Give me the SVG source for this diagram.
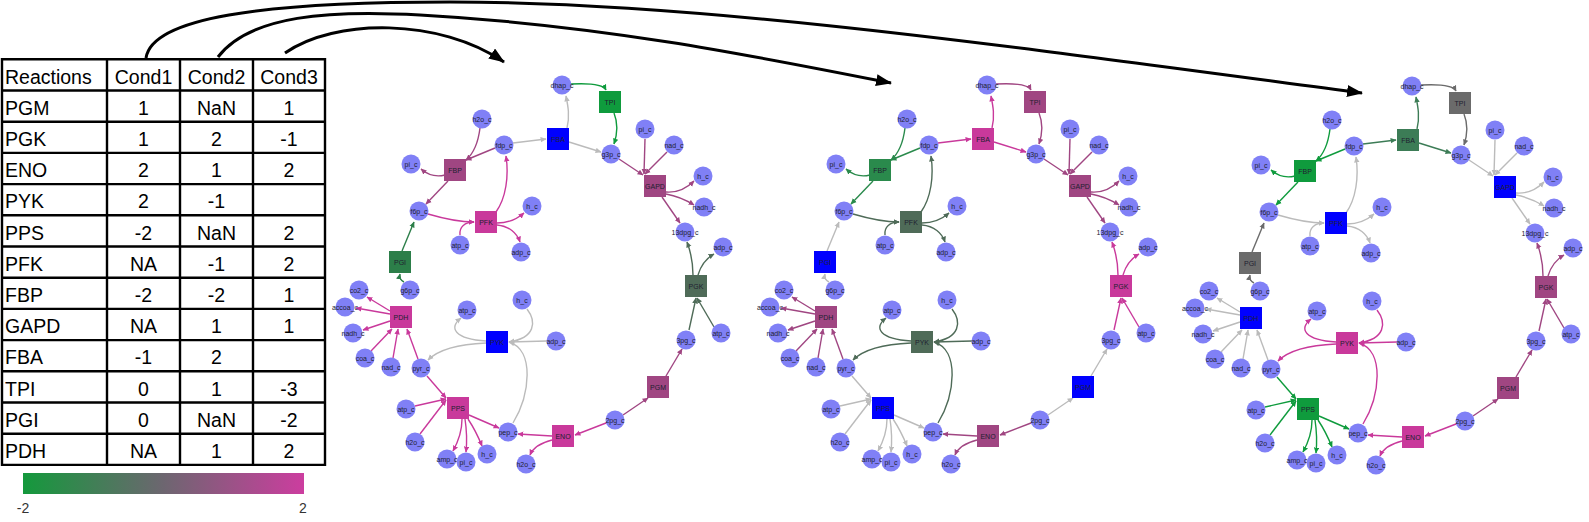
<svg xmlns="http://www.w3.org/2000/svg" width="1589" height="522" viewBox="0 0 1589 522">
<style>
text{font-family:"Liberation Sans",Arial,sans-serif}
.tb{font-size:19.5px;fill:#000}
.tc{text-anchor:middle}
.n text{font-size:7px;text-anchor:middle;fill:#202030}
.m circle{fill:#8080f6}
.e path{fill:none;stroke-width:1.4}
.big{fill:none;stroke:#000;stroke-width:3;marker-end:url(#bigh)}
.c-m2{stroke:#c9399b;marker-end:url(#h-m2)}
.c-m1{stroke:#a04682;marker-end:url(#h-m1)}
.c-g1{stroke:#4f6b58;marker-end:url(#h-g1)}
.c-g1b{stroke:#3c7c56;marker-end:url(#h-g1b)}
.c-g2{stroke:#2c7e49;marker-end:url(#h-g2)}
.c-g2b{stroke:#2a8a4c;marker-end:url(#h-g2b)}
.c-g3{stroke:#0f9b3d;marker-end:url(#h-g3)}
.c-z{stroke:#6b6b6b;marker-end:url(#h-z)}
.c-na{stroke:#bbbbbb;marker-end:url(#h-na)}
.f-m2{fill:#c9399b}.f-m1{fill:#a04682}.f-g1{fill:#4f6b58}.f-g1b{fill:#3c7c56}
.f-g2{fill:#2c7e49}.f-g2b{fill:#2a8a4c}.f-g3{fill:#0f9b3d}.f-z{fill:#6b6b6b}.f-na{fill:#0000ff}
</style>
<defs>
<linearGradient id="cbar" x1="0" y1="0" x2="1" y2="0">
<stop offset="0" stop-color="#14993c"/><stop offset="0.5" stop-color="#6d6670"/><stop offset="1" stop-color="#cc3d9f"/>
</linearGradient>
<marker id="bigh" viewBox="0 0 16 12" refX="15" refY="6" markerWidth="16" markerHeight="12" markerUnits="userSpaceOnUse" orient="auto"><path d="M0,0 L16,6 L0,12 z" fill="#000"/></marker>
<marker id="h-m2" viewBox="0 0 10 10" refX="9" refY="5" markerWidth="6" markerHeight="6" markerUnits="userSpaceOnUse" orient="auto"><path d="M0,0.5 L10,5 L0,9.5 z" fill="#c9399b"/></marker>
<marker id="h-m1" viewBox="0 0 10 10" refX="9" refY="5" markerWidth="6" markerHeight="6" markerUnits="userSpaceOnUse" orient="auto"><path d="M0,0.5 L10,5 L0,9.5 z" fill="#a04682"/></marker>
<marker id="h-g1" viewBox="0 0 10 10" refX="9" refY="5" markerWidth="6" markerHeight="6" markerUnits="userSpaceOnUse" orient="auto"><path d="M0,0.5 L10,5 L0,9.5 z" fill="#4f6b58"/></marker>
<marker id="h-g1b" viewBox="0 0 10 10" refX="9" refY="5" markerWidth="6" markerHeight="6" markerUnits="userSpaceOnUse" orient="auto"><path d="M0,0.5 L10,5 L0,9.5 z" fill="#3c7c56"/></marker>
<marker id="h-g2" viewBox="0 0 10 10" refX="9" refY="5" markerWidth="6" markerHeight="6" markerUnits="userSpaceOnUse" orient="auto"><path d="M0,0.5 L10,5 L0,9.5 z" fill="#2c7e49"/></marker>
<marker id="h-g2b" viewBox="0 0 10 10" refX="9" refY="5" markerWidth="6" markerHeight="6" markerUnits="userSpaceOnUse" orient="auto"><path d="M0,0.5 L10,5 L0,9.5 z" fill="#2a8a4c"/></marker>
<marker id="h-g3" viewBox="0 0 10 10" refX="9" refY="5" markerWidth="6" markerHeight="6" markerUnits="userSpaceOnUse" orient="auto"><path d="M0,0.5 L10,5 L0,9.5 z" fill="#0f9b3d"/></marker>
<marker id="h-z" viewBox="0 0 10 10" refX="9" refY="5" markerWidth="6" markerHeight="6" markerUnits="userSpaceOnUse" orient="auto"><path d="M0,0.5 L10,5 L0,9.5 z" fill="#6b6b6b"/></marker>
<marker id="h-na" viewBox="0 0 10 10" refX="9" refY="5" markerWidth="6" markerHeight="6" markerUnits="userSpaceOnUse" orient="auto"><path d="M0,0.5 L10,5 L0,9.5 z" fill="#bbbbbb"/></marker>
</defs>
<rect width="1589" height="522" fill="#fff"/>

<g id="table">
<path d="M2,59.3H325M2,90.5H325M2,121.7H325M2,152.9H325M2,184.1H325M2,215.3H325M2,246.5H325M2,277.7H325M2,308.9H325M2,340.1H325M2,371.3H325M2,402.5H325M2,433.7H325M2,464.9H325M2,58V466M107,58V466M180,58V466M253,58V466M325,58V466" stroke="#000" stroke-width="2.4" fill="none"/>
<g class="tb">
<text x="5" y="83.5">Reactions</text>
<text x="143.5" y="83.5" class="tc">Cond1</text><text x="216.5" y="83.5" class="tc">Cond2</text><text x="289" y="83.5" class="tc">Cond3</text>
<text x="5" y="114.7">PGM</text><text x="143.5" y="114.7" class="tc">1</text><text x="216.5" y="114.7" class="tc">NaN</text><text x="289" y="114.7" class="tc">1</text>
<text x="5" y="145.9">PGK</text><text x="143.5" y="145.9" class="tc">1</text><text x="216.5" y="145.9" class="tc">2</text><text x="289" y="145.9" class="tc">-1</text>
<text x="5" y="177.1">ENO</text><text x="143.5" y="177.1" class="tc">2</text><text x="216.5" y="177.1" class="tc">1</text><text x="289" y="177.1" class="tc">2</text>
<text x="5" y="208.3">PYK</text><text x="143.5" y="208.3" class="tc">2</text><text x="216.5" y="208.3" class="tc">-1</text>
<text x="5" y="239.5">PPS</text><text x="143.5" y="239.5" class="tc">-2</text><text x="216.5" y="239.5" class="tc">NaN</text><text x="289" y="239.5" class="tc">2</text>
<text x="5" y="270.7">PFK</text><text x="143.5" y="270.7" class="tc">NA</text><text x="216.5" y="270.7" class="tc">-1</text><text x="289" y="270.7" class="tc">2</text>
<text x="5" y="301.9">FBP</text><text x="143.5" y="301.9" class="tc">-2</text><text x="216.5" y="301.9" class="tc">-2</text><text x="289" y="301.9" class="tc">1</text>
<text x="5" y="333.1">GAPD</text><text x="143.5" y="333.1" class="tc">NA</text><text x="216.5" y="333.1" class="tc">1</text><text x="289" y="333.1" class="tc">1</text>
<text x="5" y="364.3">FBA</text><text x="143.5" y="364.3" class="tc">-1</text><text x="216.5" y="364.3" class="tc">2</text>
<text x="5" y="395.5">TPI</text><text x="143.5" y="395.5" class="tc">0</text><text x="216.5" y="395.5" class="tc">1</text><text x="289" y="395.5" class="tc">-3</text>
<text x="5" y="426.7">PGI</text><text x="143.5" y="426.7" class="tc">0</text><text x="216.5" y="426.7" class="tc">NaN</text><text x="289" y="426.7" class="tc">-2</text>
<text x="5" y="457.9">PDH</text><text x="143.5" y="457.9" class="tc">NA</text><text x="216.5" y="457.9" class="tc">1</text><text x="289" y="457.9" class="tc">2</text>
</g>
</g>

<g id="colorbar">
<rect x="23" y="473" width="281" height="21" fill="url(#cbar)"/>
<text x="23" y="513" font-size="14" fill="#333" text-anchor="middle">-2</text>
<text x="303" y="513" font-size="14" fill="#333" text-anchor="middle">2</text>
</g>

<g id="connectors">
<g id="table-arrows">
<path class="big" d="M146,58 C152,18 260,2 450,2 C700,2 1000,45 1362,93"/>
<path class="big" d="M218,57 C250,15 330,10 420,15 C600,25 750,55 891,83"/>
<path class="big" d="M285,53 C335,18 440,18 504,62"/>
</g>

<g id="edges-net1" class="e">
<g class="c-m1"><path d="M480,128 C478,144 473,154 466,160"/><path d="M495,148 L466,160"/><path d="M445,175 C437,177 428,175 421,169"/><path d="M448,181 L426,204"/></g>
<g class="c-m2"><path d="M428,214 C445,219 460,222 474,222"/><path d="M460,235 C459,227 465,222 474,222"/><path d="M496,212 C506,198 509,176 506,156"/><path d="M497,223 C508,223 516,220 524,213"/><path d="M497,225 C509,226 517,233 520,242"/></g>
<g class="c-g2"><path d="M404,282 C400,280 399,278 400,274"/><path d="M402,251 L414,222"/></g>
<g class="c-na"><path d="M513,143 L546,139"/><path d="M567,128 C570,116 568,106 566,96"/><path d="M569,142 L601,152"/></g>
<g class="c-g3"><path d="M571,84 C590,83 603,84 606,90"/><path d="M614,113 C618,123 617,135 614,144"/></g>
<g class="c-m1"><path d="M619,159 L643,175"/><path d="M645,139 L644,174"/><path d="M667,152 L645,174"/><path d="M666,192 C678,193 687,188 694,181"/><path d="M666,194 C677,196 686,200 694,205"/><path d="M662,197 L680,223"/></g>
<g class="c-g1"><path d="M689,330 L696,298"/><path d="M714,327 L697,298"/><path d="M693,275 C693,262 690,250 687,242"/><path d="M698,275 C701,265 707,258 714,254"/></g>
<g class="c-m1"><path d="M623,415 L648,398"/><path d="M666,376 L682,349"/></g>
<g class="c-m2"><path d="M606,423 L575,435"/><path d="M552,436 L518,434"/><path d="M552,440 C540,443 533,448 530,455"/></g>
<g class="c-na"><path d="M513,423 C530,395 535,350 509,342"/><path d="M527,309 C537,322 535,338 509,342"/><path d="M547,341 L509,342"/><path d="M486,341 C455,339 448,328 461,318"/><path d="M486,343 C462,344 440,348 428,360"/></g>
<g class="c-m2"><path d="M418,359 L407,329"/><path d="M393,358 L398,329"/><path d="M371,351 L392,329"/><path d="M390,311 L367,297"/><path d="M390,314 L356,308"/><path d="M390,321 L363,330"/></g>
<g class="c-m2"><path d="M427,376 L446,398"/><path d="M415,406 L446,399"/><path d="M420,434 L446,400"/><path d="M469,415 L499,428"/><path d="M462,419 C462,432 458,442 453,451"/><path d="M465,419 C467,432 467,442 466,452"/><path d="M468,419 C474,428 478,436 482,446"/></g>
</g>

<g id="edges-net2" class="e" transform="translate(425,0)">
<g class="c-g2b"><path d="M480,128 C478,144 473,154 466,160"/><path d="M495,148 L466,160"/><path d="M445,175 C437,177 428,175 421,169"/><path d="M448,181 L426,204"/></g>
<g class="c-g1"><path d="M428,214 C445,219 460,222 474,222"/><path d="M460,235 C459,227 465,222 474,222"/><path d="M496,212 C506,198 509,176 506,156"/><path d="M497,223 C508,223 516,220 524,213"/><path d="M497,225 C509,226 517,233 520,242"/></g>
<g class="c-na"><path d="M404,282 C400,280 399,278 400,274"/><path d="M402,251 L414,222"/></g>
<g class="c-m2"><path d="M513,143 L546,139"/><path d="M567,128 C570,116 568,106 566,96"/><path d="M569,142 L601,152"/></g>
<g class="c-m1"><path d="M571,84 C590,83 603,84 606,90"/><path d="M614,113 C618,123 617,135 614,144"/></g>
<g class="c-m1"><path d="M619,159 L643,175"/><path d="M645,139 L644,174"/><path d="M667,152 L645,174"/><path d="M666,192 C678,193 687,188 694,181"/><path d="M666,194 C677,196 686,200 694,205"/><path d="M662,197 L680,223"/></g>
<g class="c-m2"><path d="M689,330 L696,298"/><path d="M714,327 L697,298"/><path d="M693,275 C693,262 690,250 687,242"/><path d="M698,275 C701,265 707,258 714,254"/></g>
<g class="c-na"><path d="M623,415 L648,398"/><path d="M666,376 L682,349"/></g>
<g class="c-m1"><path d="M606,423 L575,435"/><path d="M552,436 L518,434"/><path d="M552,440 C540,443 533,448 530,455"/></g>
<g class="c-g1"><path d="M513,423 C530,395 535,350 509,342"/><path d="M527,309 C537,322 535,338 509,342"/><path d="M547,341 L509,342"/><path d="M486,341 C455,339 448,328 461,318"/><path d="M486,343 C462,344 440,348 428,360"/></g>
<g class="c-m1"><path d="M418,359 L407,329"/><path d="M393,358 L398,329"/><path d="M371,351 L392,329"/><path d="M390,311 L367,297"/><path d="M390,314 L356,308"/><path d="M390,321 L363,330"/></g>
<g class="c-na"><path d="M427,376 L446,398"/><path d="M415,406 L446,399"/><path d="M420,434 L446,400"/><path d="M469,415 L499,428"/><path d="M462,419 C462,432 458,442 453,451"/><path d="M465,419 C467,432 467,442 466,452"/><path d="M468,419 C474,428 478,436 482,446"/></g>
</g>

<g id="edges-net3" class="e" transform="translate(850,1)">
<g class="c-g3"><path d="M480,128 C478,144 473,154 466,160"/><path d="M495,148 L466,160"/><path d="M445,175 C437,177 428,175 421,169"/><path d="M448,181 L426,204"/></g>
<g class="c-na"><path d="M428,214 C445,219 460,222 474,222"/><path d="M460,235 C459,227 465,222 474,222"/><path d="M496,212 C506,198 509,176 506,156"/><path d="M497,223 C508,223 516,220 524,213"/><path d="M497,225 C509,226 517,233 520,242"/></g>
<g class="c-z"><path d="M404,282 C400,280 399,278 400,274"/><path d="M402,251 L414,222"/></g>
<g class="c-g1b"><path d="M513,143 L546,139"/><path d="M567,128 C570,116 568,106 566,96"/><path d="M569,142 L601,152"/></g>
<g class="c-z"><path d="M571,84 C590,83 603,84 606,90"/><path d="M614,113 C618,123 617,135 614,144"/></g>
<g class="c-na"><path d="M619,159 L643,175"/><path d="M645,139 L644,174"/><path d="M667,152 L645,174"/><path d="M666,192 C678,193 687,188 694,181"/><path d="M666,194 C677,196 686,200 694,205"/><path d="M662,197 L680,223"/></g>
<g class="c-m1"><path d="M689,330 L696,298"/><path d="M714,327 L697,298"/><path d="M693,275 C693,262 690,250 687,242"/><path d="M698,275 C701,265 707,258 714,254"/></g>
<g class="c-m1"><path d="M623,415 L648,398"/><path d="M666,376 L682,349"/></g>
<g class="c-m2"><path d="M606,423 L575,435"/><path d="M552,436 L518,434"/><path d="M552,440 C540,443 533,448 530,455"/></g>
<g class="c-m2"><path d="M513,423 C530,395 535,350 509,342"/><path d="M527,309 C537,322 535,338 509,342"/><path d="M547,341 L509,342"/><path d="M486,341 C455,339 448,328 461,318"/><path d="M486,343 C462,344 440,348 428,360"/></g>
<g class="c-na"><path d="M418,359 L407,329"/><path d="M393,358 L398,329"/><path d="M371,351 L392,329"/><path d="M390,311 L367,297"/><path d="M390,314 L356,308"/><path d="M390,321 L363,330"/></g>
<g class="c-g3"><path d="M427,376 L446,398"/><path d="M415,406 L446,399"/><path d="M420,434 L446,400"/><path d="M469,415 L499,428"/><path d="M462,419 C462,432 458,442 453,451"/><path d="M465,419 C467,432 467,442 466,452"/><path d="M468,419 C474,428 478,436 482,446"/></g>
</g>
</g>

<g id="nodes-net1" class="n">
<g id="n1-FBP"><rect x="444" y="159" width="22" height="22" class="f-m1"/><text x="455" y="172.5">FBP</text></g>
<g id="n1-PFK"><rect x="475" y="211" width="22" height="22" class="f-m2"/><text x="486" y="224.5">PFK</text></g>
<g id="n1-PGI"><rect x="389" y="251" width="22" height="22" class="f-g2"/><text x="400" y="264.5">PGI</text></g>
<g id="n1-FBA"><rect x="547" y="128" width="22" height="22" class="f-na"/><text x="558" y="141.5">FBA</text></g>
<g id="n1-TPI"><rect x="599" y="91" width="22" height="22" class="f-g3"/><text x="610" y="104.5">TPI</text></g>
<g id="n1-GAPD"><rect x="644" y="175" width="22" height="22" class="f-m1"/><text x="655" y="188.5">GAPD</text></g>
<g id="n1-PGK"><rect x="685" y="275" width="22" height="22" class="f-g1"/><text x="696" y="288.5">PGK</text></g>
<g id="n1-PGM"><rect x="647" y="376" width="22" height="22" class="f-m1"/><text x="658" y="389.5">PGM</text></g>
<g id="n1-ENO"><rect x="552" y="425" width="22" height="22" class="f-m2"/><text x="563" y="438.5">ENO</text></g>
<g id="n1-PYK"><rect x="486" y="331" width="22" height="22" class="f-na"/><text x="497" y="344.5">PYK</text></g>
<g id="n1-PDH"><rect x="390" y="306" width="22" height="22" class="f-m2"/><text x="401" y="319.5">PDH</text></g>
<g id="n1-PPS"><rect x="447" y="397" width="22" height="22" class="f-m2"/><text x="458" y="410.5">PPS</text></g>
<g class="m">
<g id="n1-h2o_c-1"><circle cx="482" cy="119" r="9.5"/><text x="482" y="121.5">h2o_c</text></g>
<g id="n1-fdp_c"><circle cx="504" cy="145" r="9.5"/><text x="504" y="147.5">fdp_c</text></g>
<g id="n1-pi_c-1"><circle cx="411" cy="164" r="9.5"/><text x="411" y="166.5">pi_c</text></g>
<g id="n1-f6p_c"><circle cx="419" cy="211" r="9.5"/><text x="419" y="213.5">f6p_c</text></g>
<g id="n1-atp_c-1"><circle cx="460" cy="245" r="9.5"/><text x="460" y="247.5">atp_c</text></g>
<g id="n1-adp_c-1"><circle cx="521" cy="252" r="9.5"/><text x="521" y="254.5">adp_c</text></g>
<g id="n1-h_c-1"><circle cx="532" cy="206" r="9.5"/><text x="532" y="208.5">h_c</text></g>
<g id="n1-g6p_c"><circle cx="410" cy="290" r="9.5"/><text x="410" y="292.5">g6p_c</text></g>
<g id="n1-dhap_c"><circle cx="562" cy="85" r="9.5"/><text x="562" y="87.5">dhap_c</text></g>
<g id="n1-g3p_c"><circle cx="611" cy="154" r="9.5"/><text x="611" y="156.5">g3p_c</text></g>
<g id="n1-pi_c-2"><circle cx="645" cy="129" r="9.5"/><text x="645" y="131.5">pi_c</text></g>
<g id="n1-nad_c-1"><circle cx="674" cy="145" r="9.5"/><text x="674" y="147.5">nad_c</text></g>
<g id="n1-h_c-2"><circle cx="703" cy="176" r="9.5"/><text x="703" y="178.5">h_c</text></g>
<g id="n1-nadh_c-1"><circle cx="704" cy="207" r="9.5"/><text x="704" y="209.5">nadh_c</text></g>
<g id="n1-13dpg_c"><circle cx="685" cy="232" r="9.5"/><text x="685" y="234.5">13dpg_c</text></g>
<g id="n1-adp_c-2"><circle cx="723" cy="247" r="9.5"/><text x="723" y="249.5">adp_c</text></g>
<g id="n1-atp_c-2"><circle cx="721" cy="333" r="9.5"/><text x="721" y="335.5">atp_c</text></g>
<g id="n1-3pg_c"><circle cx="686" cy="340" r="9.5"/><text x="686" y="342.5">3pg_c</text></g>
<g id="n1-2pg_c"><circle cx="615" cy="420" r="9.5"/><text x="615" y="422.5">2pg_c</text></g>
<g id="n1-pep_c"><circle cx="508" cy="432" r="9.5"/><text x="508" y="434.5">pep_c</text></g>
<g id="n1-h2o_c-2"><circle cx="526" cy="464" r="9.5"/><text x="526" y="466.5">h2o_c</text></g>
<g id="n1-atp_c-3"><circle cx="467" cy="310" r="9.5"/><text x="467" y="312.5">atp_c</text></g>
<g id="n1-h_c-3"><circle cx="522" cy="300" r="9.5"/><text x="522" y="302.5">h_c</text></g>
<g id="n1-adp_c-3"><circle cx="556" cy="341" r="9.5"/><text x="556" y="343.5">adp_c</text></g>
<g id="n1-pyr_c"><circle cx="421" cy="368" r="9.5"/><text x="421" y="370.5">pyr_c</text></g>
<g id="n1-co2_c"><circle cx="359" cy="290" r="9.5"/><text x="359" y="292.5">co2_c</text></g>
<g id="n1-accoa_c"><circle cx="345" cy="307" r="9.5"/><text x="345" y="309.5">accoa_c</text></g>
<g id="n1-nadh_c-2"><circle cx="353" cy="333" r="9.5"/><text x="353" y="335.5">nadh_c</text></g>
<g id="n1-coa_c"><circle cx="365" cy="358" r="9.5"/><text x="365" y="360.5">coa_c</text></g>
<g id="n1-nad_c-2"><circle cx="391" cy="367" r="9.5"/><text x="391" y="369.5">nad_c</text></g>
<g id="n1-atp_c-4"><circle cx="406" cy="409" r="9.5"/><text x="406" y="411.5">atp_c</text></g>
<g id="n1-h2o_c-3"><circle cx="415" cy="442" r="9.5"/><text x="415" y="444.5">h2o_c</text></g>
<g id="n1-amp_c"><circle cx="447" cy="459" r="9.5"/><text x="447" y="461.5">amp_c</text></g>
<g id="n1-pi_c-3"><circle cx="466" cy="462" r="9.5"/><text x="466" y="464.5">pi_c</text></g>
<g id="n1-h_c-4"><circle cx="487" cy="454" r="9.5"/><text x="487" y="456.5">h_c</text></g>
</g>
</g>

<g id="nodes-net2" class="n" transform="translate(425,0)">
<g id="n2-FBP"><rect x="444" y="159" width="22" height="22" class="f-g2b"/><text x="455" y="172.5">FBP</text></g>
<g id="n2-PFK"><rect x="475" y="211" width="22" height="22" class="f-g1"/><text x="486" y="224.5">PFK</text></g>
<g id="n2-PGI"><rect x="389" y="251" width="22" height="22" class="f-na"/><text x="400" y="264.5">PGI</text></g>
<g id="n2-FBA"><rect x="547" y="128" width="22" height="22" class="f-m2"/><text x="558" y="141.5">FBA</text></g>
<g id="n2-TPI"><rect x="599" y="91" width="22" height="22" class="f-m1"/><text x="610" y="104.5">TPI</text></g>
<g id="n2-GAPD"><rect x="644" y="175" width="22" height="22" class="f-m1"/><text x="655" y="188.5">GAPD</text></g>
<g id="n2-PGK"><rect x="685" y="275" width="22" height="22" class="f-m2"/><text x="696" y="288.5">PGK</text></g>
<g id="n2-PGM"><rect x="647" y="376" width="22" height="22" class="f-na"/><text x="658" y="389.5">PGM</text></g>
<g id="n2-ENO"><rect x="552" y="425" width="22" height="22" class="f-m1"/><text x="563" y="438.5">ENO</text></g>
<g id="n2-PYK"><rect x="486" y="331" width="22" height="22" class="f-g1"/><text x="497" y="344.5">PYK</text></g>
<g id="n2-PDH"><rect x="390" y="306" width="22" height="22" class="f-m1"/><text x="401" y="319.5">PDH</text></g>
<g id="n2-PPS"><rect x="447" y="397" width="22" height="22" class="f-na"/><text x="458" y="410.5">PPS</text></g>
<g class="m">
<g id="n2-h2o_c-1"><circle cx="482" cy="119" r="9.5"/><text x="482" y="121.5">h2o_c</text></g>
<g id="n2-fdp_c"><circle cx="504" cy="145" r="9.5"/><text x="504" y="147.5">fdp_c</text></g>
<g id="n2-pi_c-1"><circle cx="411" cy="164" r="9.5"/><text x="411" y="166.5">pi_c</text></g>
<g id="n2-f6p_c"><circle cx="419" cy="211" r="9.5"/><text x="419" y="213.5">f6p_c</text></g>
<g id="n2-atp_c-1"><circle cx="460" cy="245" r="9.5"/><text x="460" y="247.5">atp_c</text></g>
<g id="n2-adp_c-1"><circle cx="521" cy="252" r="9.5"/><text x="521" y="254.5">adp_c</text></g>
<g id="n2-h_c-1"><circle cx="532" cy="206" r="9.5"/><text x="532" y="208.5">h_c</text></g>
<g id="n2-g6p_c"><circle cx="410" cy="290" r="9.5"/><text x="410" y="292.5">g6p_c</text></g>
<g id="n2-dhap_c"><circle cx="562" cy="85" r="9.5"/><text x="562" y="87.5">dhap_c</text></g>
<g id="n2-g3p_c"><circle cx="611" cy="154" r="9.5"/><text x="611" y="156.5">g3p_c</text></g>
<g id="n2-pi_c-2"><circle cx="645" cy="129" r="9.5"/><text x="645" y="131.5">pi_c</text></g>
<g id="n2-nad_c-1"><circle cx="674" cy="145" r="9.5"/><text x="674" y="147.5">nad_c</text></g>
<g id="n2-h_c-2"><circle cx="703" cy="176" r="9.5"/><text x="703" y="178.5">h_c</text></g>
<g id="n2-nadh_c-1"><circle cx="704" cy="207" r="9.5"/><text x="704" y="209.5">nadh_c</text></g>
<g id="n2-13dpg_c"><circle cx="685" cy="232" r="9.5"/><text x="685" y="234.5">13dpg_c</text></g>
<g id="n2-adp_c-2"><circle cx="723" cy="247" r="9.5"/><text x="723" y="249.5">adp_c</text></g>
<g id="n2-atp_c-2"><circle cx="721" cy="333" r="9.5"/><text x="721" y="335.5">atp_c</text></g>
<g id="n2-3pg_c"><circle cx="686" cy="340" r="9.5"/><text x="686" y="342.5">3pg_c</text></g>
<g id="n2-2pg_c"><circle cx="615" cy="420" r="9.5"/><text x="615" y="422.5">2pg_c</text></g>
<g id="n2-pep_c"><circle cx="508" cy="432" r="9.5"/><text x="508" y="434.5">pep_c</text></g>
<g id="n2-h2o_c-2"><circle cx="526" cy="464" r="9.5"/><text x="526" y="466.5">h2o_c</text></g>
<g id="n2-atp_c-3"><circle cx="467" cy="310" r="9.5"/><text x="467" y="312.5">atp_c</text></g>
<g id="n2-h_c-3"><circle cx="522" cy="300" r="9.5"/><text x="522" y="302.5">h_c</text></g>
<g id="n2-adp_c-3"><circle cx="556" cy="341" r="9.5"/><text x="556" y="343.5">adp_c</text></g>
<g id="n2-pyr_c"><circle cx="421" cy="368" r="9.5"/><text x="421" y="370.5">pyr_c</text></g>
<g id="n2-co2_c"><circle cx="359" cy="290" r="9.5"/><text x="359" y="292.5">co2_c</text></g>
<g id="n2-accoa_c"><circle cx="345" cy="307" r="9.5"/><text x="345" y="309.5">accoa_c</text></g>
<g id="n2-nadh_c-2"><circle cx="353" cy="333" r="9.5"/><text x="353" y="335.5">nadh_c</text></g>
<g id="n2-coa_c"><circle cx="365" cy="358" r="9.5"/><text x="365" y="360.5">coa_c</text></g>
<g id="n2-nad_c-2"><circle cx="391" cy="367" r="9.5"/><text x="391" y="369.5">nad_c</text></g>
<g id="n2-atp_c-4"><circle cx="406" cy="409" r="9.5"/><text x="406" y="411.5">atp_c</text></g>
<g id="n2-h2o_c-3"><circle cx="415" cy="442" r="9.5"/><text x="415" y="444.5">h2o_c</text></g>
<g id="n2-amp_c"><circle cx="447" cy="459" r="9.5"/><text x="447" y="461.5">amp_c</text></g>
<g id="n2-pi_c-3"><circle cx="466" cy="462" r="9.5"/><text x="466" y="464.5">pi_c</text></g>
<g id="n2-h_c-4"><circle cx="487" cy="454" r="9.5"/><text x="487" y="456.5">h_c</text></g>
</g>
</g>

<g id="nodes-net3" class="n" transform="translate(850,1)">
<g id="n3-FBP"><rect x="444" y="159" width="22" height="22" class="f-g3"/><text x="455" y="172.5">FBP</text></g>
<g id="n3-PFK"><rect x="475" y="211" width="22" height="22" class="f-na"/><text x="486" y="224.5">PFK</text></g>
<g id="n3-PGI"><rect x="389" y="251" width="22" height="22" class="f-z"/><text x="400" y="264.5">PGI</text></g>
<g id="n3-FBA"><rect x="547" y="128" width="22" height="22" class="f-g1b"/><text x="558" y="141.5">FBA</text></g>
<g id="n3-TPI"><rect x="599" y="91" width="22" height="22" class="f-z"/><text x="610" y="104.5">TPI</text></g>
<g id="n3-GAPD"><rect x="644" y="175" width="22" height="22" class="f-na"/><text x="655" y="188.5">GAPD</text></g>
<g id="n3-PGK"><rect x="685" y="275" width="22" height="22" class="f-m1"/><text x="696" y="288.5">PGK</text></g>
<g id="n3-PGM"><rect x="647" y="376" width="22" height="22" class="f-m1"/><text x="658" y="389.5">PGM</text></g>
<g id="n3-ENO"><rect x="552" y="425" width="22" height="22" class="f-m2"/><text x="563" y="438.5">ENO</text></g>
<g id="n3-PYK"><rect x="486" y="331" width="22" height="22" class="f-m2"/><text x="497" y="344.5">PYK</text></g>
<g id="n3-PDH"><rect x="390" y="306" width="22" height="22" class="f-na"/><text x="401" y="319.5">PDH</text></g>
<g id="n3-PPS"><rect x="447" y="397" width="22" height="22" class="f-g3"/><text x="458" y="410.5">PPS</text></g>
<g class="m">
<g id="n3-h2o_c-1"><circle cx="482" cy="119" r="9.5"/><text x="482" y="121.5">h2o_c</text></g>
<g id="n3-fdp_c"><circle cx="504" cy="145" r="9.5"/><text x="504" y="147.5">fdp_c</text></g>
<g id="n3-pi_c-1"><circle cx="411" cy="164" r="9.5"/><text x="411" y="166.5">pi_c</text></g>
<g id="n3-f6p_c"><circle cx="419" cy="211" r="9.5"/><text x="419" y="213.5">f6p_c</text></g>
<g id="n3-atp_c-1"><circle cx="460" cy="245" r="9.5"/><text x="460" y="247.5">atp_c</text></g>
<g id="n3-adp_c-1"><circle cx="521" cy="252" r="9.5"/><text x="521" y="254.5">adp_c</text></g>
<g id="n3-h_c-1"><circle cx="532" cy="206" r="9.5"/><text x="532" y="208.5">h_c</text></g>
<g id="n3-g6p_c"><circle cx="410" cy="290" r="9.5"/><text x="410" y="292.5">g6p_c</text></g>
<g id="n3-dhap_c"><circle cx="562" cy="85" r="9.5"/><text x="562" y="87.5">dhap_c</text></g>
<g id="n3-g3p_c"><circle cx="611" cy="154" r="9.5"/><text x="611" y="156.5">g3p_c</text></g>
<g id="n3-pi_c-2"><circle cx="645" cy="129" r="9.5"/><text x="645" y="131.5">pi_c</text></g>
<g id="n3-nad_c-1"><circle cx="674" cy="145" r="9.5"/><text x="674" y="147.5">nad_c</text></g>
<g id="n3-h_c-2"><circle cx="703" cy="176" r="9.5"/><text x="703" y="178.5">h_c</text></g>
<g id="n3-nadh_c-1"><circle cx="704" cy="207" r="9.5"/><text x="704" y="209.5">nadh_c</text></g>
<g id="n3-13dpg_c"><circle cx="685" cy="232" r="9.5"/><text x="685" y="234.5">13dpg_c</text></g>
<g id="n3-adp_c-2"><circle cx="723" cy="247" r="9.5"/><text x="723" y="249.5">adp_c</text></g>
<g id="n3-atp_c-2"><circle cx="721" cy="333" r="9.5"/><text x="721" y="335.5">atp_c</text></g>
<g id="n3-3pg_c"><circle cx="686" cy="340" r="9.5"/><text x="686" y="342.5">3pg_c</text></g>
<g id="n3-2pg_c"><circle cx="615" cy="420" r="9.5"/><text x="615" y="422.5">2pg_c</text></g>
<g id="n3-pep_c"><circle cx="508" cy="432" r="9.5"/><text x="508" y="434.5">pep_c</text></g>
<g id="n3-h2o_c-2"><circle cx="526" cy="464" r="9.5"/><text x="526" y="466.5">h2o_c</text></g>
<g id="n3-atp_c-3"><circle cx="467" cy="310" r="9.5"/><text x="467" y="312.5">atp_c</text></g>
<g id="n3-h_c-3"><circle cx="522" cy="300" r="9.5"/><text x="522" y="302.5">h_c</text></g>
<g id="n3-adp_c-3"><circle cx="556" cy="341" r="9.5"/><text x="556" y="343.5">adp_c</text></g>
<g id="n3-pyr_c"><circle cx="421" cy="368" r="9.5"/><text x="421" y="370.5">pyr_c</text></g>
<g id="n3-co2_c"><circle cx="359" cy="290" r="9.5"/><text x="359" y="292.5">co2_c</text></g>
<g id="n3-accoa_c"><circle cx="345" cy="307" r="9.5"/><text x="345" y="309.5">accoa_c</text></g>
<g id="n3-nadh_c-2"><circle cx="353" cy="333" r="9.5"/><text x="353" y="335.5">nadh_c</text></g>
<g id="n3-coa_c"><circle cx="365" cy="358" r="9.5"/><text x="365" y="360.5">coa_c</text></g>
<g id="n3-nad_c-2"><circle cx="391" cy="367" r="9.5"/><text x="391" y="369.5">nad_c</text></g>
<g id="n3-atp_c-4"><circle cx="406" cy="409" r="9.5"/><text x="406" y="411.5">atp_c</text></g>
<g id="n3-h2o_c-3"><circle cx="415" cy="442" r="9.5"/><text x="415" y="444.5">h2o_c</text></g>
<g id="n3-amp_c"><circle cx="447" cy="459" r="9.5"/><text x="447" y="461.5">amp_c</text></g>
<g id="n3-pi_c-3"><circle cx="466" cy="462" r="9.5"/><text x="466" y="464.5">pi_c</text></g>
<g id="n3-h_c-4"><circle cx="487" cy="454" r="9.5"/><text x="487" y="456.5">h_c</text></g>
</g>
</g>
</svg>
